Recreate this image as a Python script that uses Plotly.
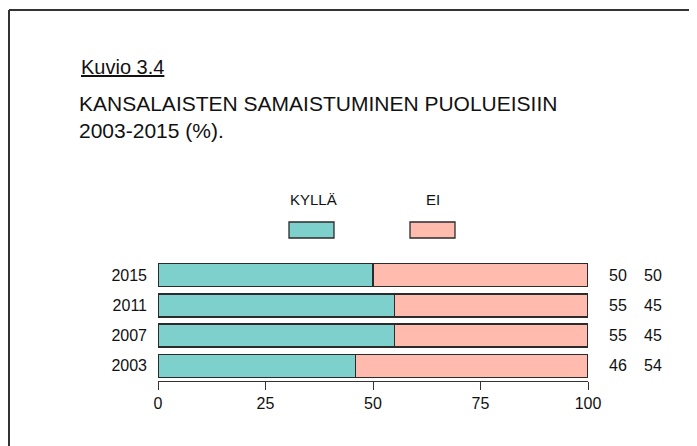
import plotly.graph_objects as go

years = ["2003", "2007", "2011", "2015"]
kylla = [46, 55, 55, 50]
ei = [54, 45, 45, 50]
x_ticks = [0, 25, 50, 75, 100]
series_names = ["KYLLÄ", "EI"]
fig_label = "Kuvio 3.4"
title_lines = ["KANSALAISTEN SAMAISTUMINEN PUOLUEISIIN", "2003-2015 (%)."]

TEAL = "#7dd0cc"
PINK = "#ffbbae"
EDGE = "#2b2b2b"
FONT = "Liberation Sans, Arial, sans-serif"

# the page body adds an 8px offset; all page coordinates below are shifted by it
OFF = 8
W, H = 697 - OFF, 446 - OFF
L, R, T, B = 158 - OFF, 697 - 588, 260 - OFF, 446 - 381
pw, ph = W - L - R, H - T - B


def px(x):
    return (x - OFF - L) / pw


def py(y):
    return (H - B - (y - OFF)) / ph


fig = go.Figure()
fig.add_trace(go.Bar(y=years, x=kylla, orientation="h", name=series_names[0],
                     marker=dict(color=TEAL, line=dict(color=EDGE, width=1.3))))
fig.add_trace(go.Bar(y=years, x=ei, orientation="h", name=series_names[1],
                     marker=dict(color=PINK, line=dict(color=EDGE, width=1.3))))

annotations = []
for i, (a, b) in enumerate(zip(kylla, ei)):
    annotations.append(dict(x=px(618), y=i, xref="paper", yref="y", text=str(a),
                            showarrow=False, xanchor="center", yanchor="middle",
                            font=dict(size=16, color="#111")))
    annotations.append(dict(x=px(653), y=i, xref="paper", yref="y", text=str(b),
                            showarrow=False, xanchor="center", yanchor="middle",
                            font=dict(size=16, color="#111")))

annotations.append(dict(x=px(79), y=py(67), xref="paper", yref="paper",
                        text="<u>" + fig_label + "</u>", showarrow=False,
                        xanchor="left", yanchor="middle", font=dict(size=20, color="#111")))
annotations.append(dict(x=px(77), y=py(103), xref="paper", yref="paper",
                        text=title_lines[0], showarrow=False,
                        xanchor="left", yanchor="middle", font=dict(size=21, color="#111")))
annotations.append(dict(x=px(77), y=py(130), xref="paper", yref="paper",
                        text=title_lines[1], showarrow=False,
                        xanchor="left", yanchor="middle", font=dict(size=21, color="#111")))

leg = [(313, 289, 334, TEAL), (433, 410, 455, PINK)]
shapes = []
for name, (tx, x0, x1, col) in zip(series_names, leg):
    annotations.append(dict(x=px(tx), y=py(199), xref="paper", yref="paper", text=name,
                            showarrow=False, xanchor="center", yanchor="middle",
                            font=dict(size=15, color="#111")))
    shapes.append(dict(type="rect", xref="paper", yref="paper",
                       x0=px(x0), x1=px(x1), y0=py(238), y1=py(222),
                       fillcolor=col, line=dict(color=EDGE, width=1.3)))

shapes.append(dict(type="line", xref="paper", yref="paper",
                   x0=px(9), x1=px(700), y0=py(10), y1=py(10),
                   line=dict(color="#333", width=2)))
shapes.append(dict(type="line", xref="paper", yref="paper",
                   x0=px(9), x1=px(9), y0=py(10), y1=py(450),
                   line=dict(color="#333", width=2)))

fig.update_layout(
    barmode="stack",
    bargap=0.24,
    width=W, height=H,
    margin=dict(l=L, r=R, t=T, b=B, pad=0),
    paper_bgcolor="white", plot_bgcolor="white",
    showlegend=False,
    font=dict(family=FONT, color="#111", size=16),
    annotations=annotations,
    shapes=shapes,
    xaxis=dict(range=[0, 100], tickvals=x_ticks, ticks="outside", ticklen=8,
               tickcolor="#333", showline=True, linecolor="#333", linewidth=1,
               showgrid=False, zeroline=False, tickfont=dict(size=16),
               fixedrange=True),
    yaxis=dict(type="category", range=[-0.5, 3.5], autorange=False,
               showline=False, ticks="", showgrid=False, zeroline=False,
               tickfont=dict(size=16), ticklabelstandoff=10,
               categoryorder="array", categoryarray=years, fixedrange=True),
)

fig.write_html("out.html")
